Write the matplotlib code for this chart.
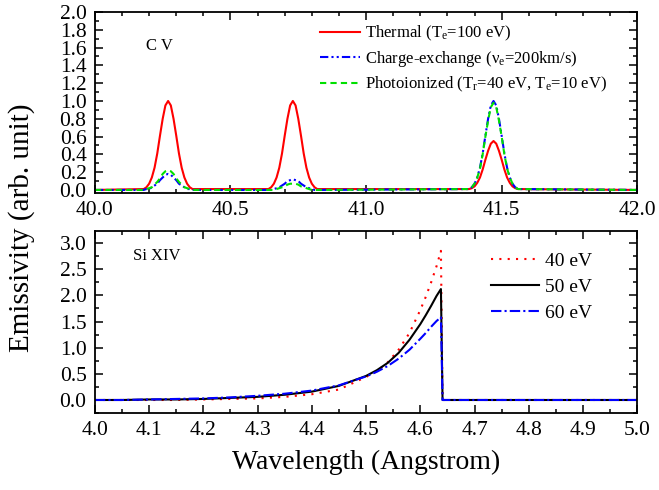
import matplotlib
matplotlib.use("Agg")
import matplotlib.pyplot as plt
import numpy as np
from matplotlib.ticker import MultipleLocator

plt.rcParams['font.family'] = ['Liberation Serif', 'DejaVu Serif']
plt.rcParams['mathtext.fontset'] = 'custom'
plt.rcParams['mathtext.rm'] = 'Liberation Serif'
plt.rcParams['mathtext.it'] = 'Liberation Serif:italic'

# ---- top panel: C V lines (0.01 A steps around each line)
cv_centers = [40.27, 40.73, 41.47]
cv_offsets = [-0.09, -0.08, -0.07, -0.06, -0.05, -0.04, -0.03, -0.02, -0.01, 0.0,
              0.01, 0.02, 0.03, 0.04, 0.05, 0.06, 0.07, 0.08, 0.09]

thermal_peaks = [
    [0.01, 0.03, 0.07, 0.14, 0.25, 0.41, 0.61, 0.80, 0.95, 1.00, 0.95, 0.80, 0.61, 0.41, 0.25, 0.14, 0.07, 0.03, 0.01],
    [0.01, 0.03, 0.07, 0.14, 0.25, 0.41, 0.61, 0.80, 0.95, 1.00, 0.95, 0.80, 0.61, 0.41, 0.25, 0.14, 0.07, 0.03, 0.01],
    [0.01, 0.02, 0.04, 0.08, 0.14, 0.23, 0.34, 0.44, 0.52, 0.55, 0.52, 0.44, 0.34, 0.23, 0.14, 0.08, 0.04, 0.02, 0.01],
]
cx_peaks = [
    [0.00, 0.01, 0.01, 0.03, 0.05, 0.07, 0.11, 0.14, 0.17, 0.18, 0.17, 0.14, 0.11, 0.07, 0.05, 0.03, 0.01, 0.01, 0.00],
    [0.00, 0.00, 0.01, 0.02, 0.03, 0.05, 0.07, 0.10, 0.11, 0.12, 0.11, 0.10, 0.07, 0.05, 0.03, 0.02, 0.01, 0.00, 0.00],
    [0.01, 0.03, 0.07, 0.14, 0.25, 0.41, 0.61, 0.80, 0.95, 1.00, 0.95, 0.80, 0.61, 0.41, 0.25, 0.14, 0.07, 0.03, 0.01],
]
photo_peaks = [
    [0.00, 0.01, 0.02, 0.03, 0.06, 0.09, 0.13, 0.18, 0.21, 0.22, 0.21, 0.18, 0.13, 0.09, 0.06, 0.03, 0.02, 0.01, 0.00],
    [0.00, 0.00, 0.00, 0.01, 0.02, 0.03, 0.04, 0.06, 0.07, 0.07, 0.07, 0.06, 0.04, 0.03, 0.02, 0.01, 0.00, 0.00, 0.00],
    [0.01, 0.03, 0.07, 0.14, 0.24, 0.40, 0.60, 0.78, 0.93, 0.98, 0.93, 0.78, 0.60, 0.40, 0.24, 0.14, 0.07, 0.03, 0.01],
]

# ---- bottom panel: Si XIV recombination edge
si_wl = [4.00, 4.05, 4.10, 4.15, 4.20, 4.25, 4.30, 4.35, 4.40, 4.45, 4.50, 4.52, 4.54,
         4.56, 4.58, 4.60, 4.61, 4.62, 4.63, 4.638, 4.641, 5.00]
si_40 = [0.00, 0.00, 0.00, 0.00, 0.01, 0.02, 0.03, 0.06, 0.11, 0.20, 0.44, 0.55, 0.72,
         0.96, 1.28, 1.72, 1.97, 2.25, 2.56, 2.85, 0.00, 0.00]
si_50 = [0.00, 0.00, 0.01, 0.01, 0.02, 0.04, 0.06, 0.10, 0.16, 0.27, 0.46, 0.57, 0.71,
         0.90, 1.15, 1.45, 1.62, 1.80, 1.99, 2.12, 0.00, 0.00]
si_60 = [0.00, 0.00, 0.01, 0.02, 0.03, 0.05, 0.08, 0.12, 0.18, 0.28, 0.45, 0.54, 0.65,
         0.79, 0.96, 1.17, 1.28, 1.40, 1.51, 1.58, 0.00, 0.00]


def cv_series(peaks):
    wl, val = [40.0], [0.0]
    for c, p in zip(cv_centers, peaks):
        wl += [c + o for o in cv_offsets]
        val += p
    return wl + [42.0], val + [0.0]


def style_axes(ax):
    ax.tick_params(which='both', direction='in', top=True, right=True,
                   labelsize=15.5, width=1.1)
    ax.tick_params(which='major', length=6, pad=6)
    ax.tick_params(which='minor', length=3)
    for s in ax.spines.values():
        s.set_linewidth(1.3)


fig = plt.figure(figsize=(6.59, 4.9), dpi=100)
ax1 = fig.add_axes([0.144, 0.606, 0.823, 0.3695])
ax2 = fig.add_axes([0.144, 0.157, 0.823, 0.3716])

wl, v = cv_series(thermal_peaks)
ax1.plot(wl, v, color='#ff0000', lw=1.5, label='Thermal (T$_\\mathregular{e}$=100 eV)')
wl, v = cv_series(cx_peaks)
ax1.plot(wl, v, color='#0000ff', lw=1.5, ls=(0, (4, 1.5, 1, 1.5, 1, 1.5)),
         label='Charge-exchange (\u03bd$_\\mathregular{e}$=200km/s)')
wl, v = cv_series(photo_peaks)
ax1.plot(wl, v, color='#00e000', lw=1.5, ls=(0, (3, 2)),
         label='Photoionized (T$_\\mathregular{r}$=40 eV, T$_\\mathregular{e}$=10 eV)')

ax1.set_xlim(40.0, 42.0)
ax1.set_ylim(-0.035, 2.0)
ax1.xaxis.set_major_locator(MultipleLocator(0.5))
ax1.xaxis.set_minor_locator(MultipleLocator(0.1))
ax1.yaxis.set_major_locator(MultipleLocator(0.2))
ax1.yaxis.set_minor_locator(MultipleLocator(0.1))
ax1.xaxis.set_major_formatter(matplotlib.ticker.FormatStrFormatter('%.1f'))
ax1.yaxis.set_major_formatter(matplotlib.ticker.FormatStrFormatter('%.1f'))
style_axes(ax1)
ax1.text(40.19, 1.62, 'C V', fontsize=12, va='center', ha='left')
ax1.legend(loc='upper left', bbox_to_anchor=(0.415, 0.935), frameon=False, fontsize=12,
           handlelength=2.4, handletextpad=0.3, labelspacing=0.36, borderpad=0,
           borderaxespad=0)

ax2.plot(si_wl, si_40, color='#ff0000', lw=1.5, ls=(0, (1, 3)), label='40 eV')
ax2.plot(si_wl, si_50, color='black', lw=1.5, label='50 eV')
ax2.plot(si_wl, si_60, color='#0000ff', lw=1.5, ls=(0, (5, 1.5, 1, 1.5)), label='60 eV')
ax2.set_xlim(4.0, 5.0)
ax2.set_ylim(-0.25, 3.23)
ax2.xaxis.set_major_locator(MultipleLocator(0.1))
ax2.xaxis.set_minor_locator(MultipleLocator(0.05))
ax2.yaxis.set_major_locator(MultipleLocator(0.5))
ax2.yaxis.set_minor_locator(MultipleLocator(0.25))
ax2.xaxis.set_major_formatter(matplotlib.ticker.FormatStrFormatter('%.1f'))
ax2.yaxis.set_major_formatter(matplotlib.ticker.FormatStrFormatter('%.1f'))
style_axes(ax2)
ax2.text(4.07, 2.75, 'Si XIV', fontsize=12, va='center', ha='left')
ax2.legend(loc='upper left', bbox_to_anchor=(0.73, 0.885), frameon=False, fontsize=14,
           handlelength=2.5, handletextpad=0.3, labelspacing=0.45, borderpad=0,
           borderaxespad=0)
ax2.set_xlabel('Wavelength (Angstrom)', fontsize=20, labelpad=7)

fig.text(0.033, 0.535, 'Emissivity (arb. unit)', fontsize=21, rotation=90,
         ha='center', va='center')

fig.savefig('out.png', dpi=100)
